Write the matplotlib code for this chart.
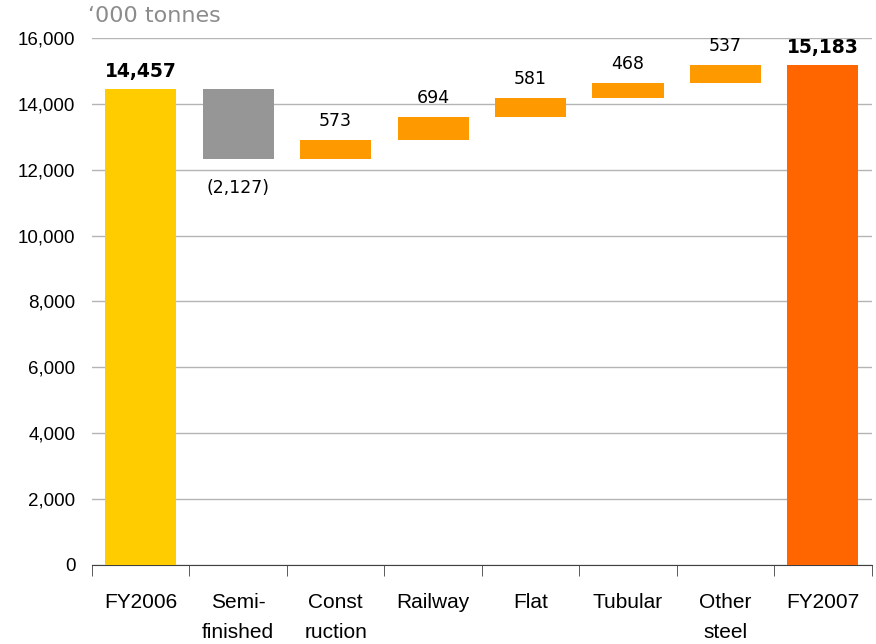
import matplotlib.pyplot as plt
from matplotlib.ticker import FuncFormatter

# Steel deliveries bridge, '000 tonnes
categories = ['FY2006', 'Semi-\nfinished', 'Const\nruction', 'Railway',
              'Flat', 'Tubular', 'Other\nsteel', 'FY2007']
start_total = 14457
changes = [-2127, 573, 694, 581, 468, 537]
end_total = 15183

c_start = '#FFCC00'
c_neg = '#969696'
c_pos = '#FF9900'
c_end = '#FF6600'

fig = plt.figure(figsize=(8.76, 6.44), dpi=100)
ax = fig.add_axes([0.105, 0.1227, 0.89, 0.8183])

width = 0.73
xs = list(range(len(categories)))

# opening total
ax.bar(0, start_total, width=width, color=c_start, zorder=3)
ax.text(0, start_total + 250, f'{start_total:,}', ha='center', va='bottom',
        fontsize=13.5, fontweight='bold', family='DejaVu Sans')

# floating steps
level = start_total
for i, d in enumerate(changes, start=1):
    bottom = level if d > 0 else level + d
    ax.bar(i, abs(d), bottom=bottom, width=width,
           color=c_pos if d > 0 else c_neg, zorder=3)
    if d > 0:
        ax.text(i, level + d + 300, f'{d:,}', ha='center', va='bottom',
                fontsize=12.5, family='DejaVu Sans')
    else:
        ax.text(i, level + d - 600, f'({-d:,})', ha='center', va='top',
                fontsize=12.5, family='DejaVu Sans')
    level += d

# closing total
ax.bar(len(categories) - 1, end_total, width=width, color=c_end, zorder=3)
ax.text(len(categories) - 1, end_total + 250, f'{end_total:,}', ha='center',
        va='bottom', fontsize=13.5, fontweight='bold', family='DejaVu Sans')

ax.set_xlim(-0.5, len(categories) - 0.5)
ax.set_ylim(0, 16000)
ax.set_yticks(range(0, 16001, 2000))
ax.yaxis.set_major_formatter(FuncFormatter(lambda v, p: f'{int(v):,}'))
ax.grid(axis='y', color='#b4b4b4', linewidth=1, zorder=0)

ax.set_xticks(xs)
ax.set_xticklabels(categories, linespacing=1.75)
ax.set_xticks([x + 0.5 for x in range(-1, len(categories))], minor=True)
ax.tick_params(axis='x', which='major', length=0, pad=20, labelsize=15,
               labelfontfamily='Liberation Sans')
ax.tick_params(axis='x', which='minor', length=8, color='#404040')
ax.tick_params(axis='y', length=0, labelsize=13.5, pad=12,
               labelfontfamily='Liberation Sans')

for s in ['top', 'right', 'left']:
    ax.spines[s].set_visible(False)
ax.spines['bottom'].set_color('#404040')

fig.text(0.101, 0.96, "\u2018000 tonnes", fontsize=16, color='#8c8c8c',
         family='DejaVu Sans', va='bottom')

fig.savefig('out.png', dpi=100)
